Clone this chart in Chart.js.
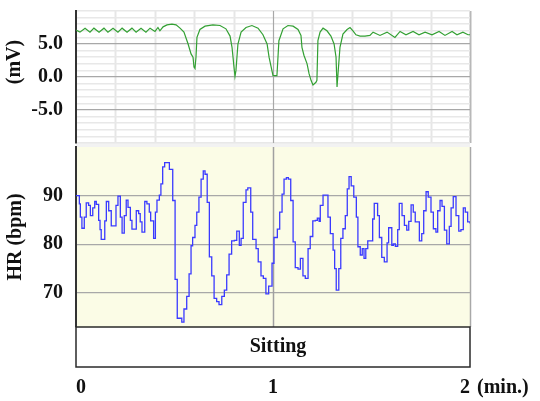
<!DOCTYPE html>
<html>
<head>
<meta charset="utf-8">
<script src="https://cdn.jsdelivr.net/npm/chart.js@4/dist/chart.umd.min.js"></script>
<style>
  html, body { margin: 0; padding: 0; background: #fff; }
</style>
</head>
<body>
<canvas id="myChart" width="540" height="401"></canvas>
<script>
// top trace (mV), time in minutes
const mvTime = [0, 0.020, 0.046, 0.071, 0.091, 0.117, 0.142, 0.162, 0.188, 0.213, 0.234, 0.259, 0.284, 0.305,
  0.330, 0.355, 0.376, 0.401, 0.416, 0.426, 0.442, 0.462, 0.487, 0.508, 0.528, 0.548, 0.569, 0.584, 0.594,
  0.599, 0.604, 0.609, 0.614, 0.629, 0.655, 0.695, 0.731, 0.761, 0.782, 0.792, 0.802, 0.807, 0.812, 0.822,
  0.838, 0.863, 0.893, 0.924, 0.949, 0.970, 0.980, 0.990, 1.000, 1.020, 1.030, 1.051, 1.076, 1.102, 1.127,
  1.142, 1.147, 1.157, 1.173, 1.183, 1.193, 1.203, 1.218, 1.223, 1.228, 1.239, 1.254, 1.274, 1.294, 1.310,
  1.320, 1.325, 1.330, 1.340, 1.355, 1.376, 1.391, 1.406, 1.421, 1.442, 1.467, 1.492, 1.508, 1.543, 1.579,
  1.619, 1.645, 1.675, 1.711, 1.741, 1.772, 1.807, 1.843, 1.873, 1.909, 1.934, 1.964, 1.990, 2.000];
const mvValues = [7.1, 6.8, 7.4, 6.8, 7.4, 6.8, 7.4, 6.8, 7.4, 6.8, 7.4, 6.8, 7.4, 6.8,
  7.4, 6.8, 7.4, 6.9, 7.5, 7.0, 7.6, 7.9, 8.0, 7.9, 7.4, 6.8, 5.0, 3.5, 3.0,
  1.5, 1.3, 3.0, 6.0, 7.2, 7.7, 7.9, 7.8, 7.3, 6.2, 4.5, 1.5, 0.1, 1.0, 5.0,
  6.8, 7.5, 7.8, 7.4, 6.4, 5.0, 3.0, 1.6, 0.2, 0.2, 5.5, 7.3, 7.8, 7.7, 7.2,
  6.3, 4.5, 3.3, 2.0, 0.5, -0.5, -1.2, -0.8, -0.5, 5.5, 6.8, 7.4, 7.0, 6.2, 5.0,
  3.0, -1.5, 0.5, 4.5, 6.5, 7.2, 7.5, 7.0, 6.4, 6.2, 6.2, 6.3, 6.8, 6.3, 6.8,
  6.0, 6.9, 6.4, 6.9, 6.4, 6.8, 6.4, 6.9, 6.3, 6.9, 6.4, 6.8, 6.4, 6.4];

// heart rate (bpm), one value per step
const hrTime = [0, 0.017, 0.022, 0.030, 0.042, 0.052, 0.064, 0.073, 0.085, 0.095, 0.103, 0.115, 0.122, 0.128,
  0.146, 0.154, 0.166, 0.179, 0.203, 0.213, 0.225, 0.234, 0.245, 0.255, 0.264, 0.276, 0.284, 0.306, 0.318,
  0.326, 0.335, 0.349, 0.360, 0.372, 0.379, 0.394, 0.403, 0.411, 0.423, 0.431, 0.440, 0.450, 0.474, 0.491,
  0.503, 0.514, 0.537, 0.548, 0.562, 0.574, 0.584, 0.592, 0.604, 0.613, 0.624, 0.635, 0.646, 0.655, 0.666,
  0.677, 0.689, 0.701, 0.714, 0.726, 0.740, 0.753, 0.765, 0.777, 0.790, 0.804, 0.816, 0.829, 0.838, 0.849,
  0.863, 0.872, 0.887, 0.897, 0.914, 0.925, 0.939, 0.951, 0.964, 0.978, 0.995, 1.005, 1.022, 1.034, 1.046,
  1.056, 1.068, 1.078, 1.090, 1.102, 1.113, 1.127, 1.139, 1.152, 1.164, 1.178, 1.189, 1.202, 1.215, 1.225,
  1.234, 1.240, 1.254, 1.279, 1.291, 1.305, 1.313, 1.321, 1.334, 1.344, 1.355, 1.367, 1.377, 1.386, 1.397,
  1.410, 1.423, 1.431, 1.443, 1.453, 1.462, 1.471, 1.481, 1.506, 1.514, 1.531, 1.540, 1.552, 1.565, 1.579,
  1.587, 1.603, 1.611, 1.621, 1.633, 1.641, 1.655, 1.667, 1.679, 1.689, 1.701, 1.712, 1.722, 1.743, 1.755,
  1.765, 1.777, 1.788, 1.802, 1.814, 1.827, 1.836, 1.848, 1.858, 1.870, 1.882, 1.895, 1.904, 1.915, 1.929,
  1.943, 1.954, 1.966, 1.976, 1.988, 2.000];
const hrValues = [90, 88.3, 85.6, 83.3, 85.6, 88.5, 88.0, 85.9, 87.5, 88.8, 88.2, 84.9, 83.0, 81.0,
  84.8, 88.8, 86.9, 83.8, 88.0, 89.9, 85.6, 82.3, 85.9, 89.1, 87.6, 84.9, 83.1, 86.9, 86.3,
  84.6, 82.5, 88.8, 88.3, 86.6, 84.8, 81.2, 86.6, 89.1, 90.1, 92.4, 95.9, 96.8, 95.4, 89.0,
  72.8, 64.8, 64.0, 66.7, 69.3, 73.9, 79.7, 81.4, 83.9, 86.6, 89.7, 93.4, 95.1, 94.4, 88.6,
  77.4, 73.5, 68.9, 68.2, 67.6, 69.3, 70.6, 73.7, 78.0, 80.7, 80.8, 82.7, 79.8, 81.2, 88.6,
  91.2, 91.6, 86.6, 81.0, 79.1, 76.4, 73.5, 73.0, 69.8, 71.4, 76.1, 81.4, 83.1, 86.6, 90.3,
  93.4, 93.7, 93.4, 89.0, 80.5, 75.2, 74.9, 77.1, 73.5, 73.0, 79.1, 81.6, 84.8, 84.9, 85.4,
  84.7, 88.0, 90.1, 85.6, 82.2, 78.8, 75.0, 70.6, 75.0, 81.2, 83.2, 85.9, 91.4, 93.9, 92.0,
  89.7, 85.6, 79.5, 77.8, 79.1, 77.1, 79.1, 80.7, 85.2, 88.4, 85.9, 81.4, 77.3, 76.4, 80.3,
  83.4, 79.8, 80.1, 79.6, 83.0, 88.4, 85.9, 83.9, 82.9, 84.7, 88.1, 86.6, 84.6, 80.7, 82.2,
  86.9, 90.8, 89.7, 86.6, 83.2, 82.5, 86.9, 89.0, 87.8, 82.9, 80.1, 83.7, 87.5, 89.8, 85.9,
  82.7, 83.0, 87.5, 86.6, 84.6, 84.3];

const xTickValues = [0, 1, 2];
const mvLabelValues = [-5, 0, 5];
const hrTickValues = [70, 80, 90];

const FONT = "'Palatino Linotype', 'Book Antiqua', Palatino, 'Liberation Serif', serif";
const boldFont = { family: FONT, size: 20, weight: 'bold' };

function fixWidth(s) {
  s.width = 76;
  s.paddingTop = 0;
  s.paddingBottom = 0;
}

function vline(ctx, px, top, bottom, color, width) {
  ctx.beginPath();
  ctx.strokeStyle = color;
  ctx.lineWidth = width;
  ctx.moveTo(px, top);
  ctx.lineTo(px, bottom);
  ctx.stroke();
}

const panelPlugin = {
  id: 'panels',
  beforeDraw(chart) {
    const { ctx, chartArea, scales } = chart;
    const x = scales.x, mv = scales.mv, hr = scales.hr;
    ctx.save();
    // yellow background of HR panel
    ctx.fillStyle = '#fbfce6';
    ctx.fillRect(chartArea.left, hr.top, chartArea.right - chartArea.left, hr.bottom - hr.top);
    // light band between panels
    ctx.fillStyle = '#f2f2f2';
    ctx.fillRect(chartArea.left, mv.bottom, chartArea.right - chartArea.left, hr.top - mv.bottom);
    // light vertical grid of top panel every 0.2 min
    for (let i = 1; i <= 10; i++) {
      if (i === 5) continue;
      const px = Math.round(x.getPixelForValue(i * 0.2)) + 0.5;
      vline(ctx, px, mv.top, mv.bottom, i === 10 ? '#b8b8b8' : '#e6e6e6', 2);
    }
    ctx.restore();
  },
  beforeDatasetsDraw(chart) {
    const { ctx, scales } = chart;
    const x = scales.x, mv = scales.mv, hr = scales.hr;
    ctx.save();
    const p1 = Math.round(x.getPixelForValue(1)) + 0.5;
    const p2 = Math.round(x.getPixelForValue(2)) + 0.5;
    vline(ctx, p1, mv.top, mv.bottom, '#a8a8a8', 1.2);
    vline(ctx, p1, hr.top, hr.bottom, '#a0a0a0', 1.5);
    vline(ctx, p2, hr.top, hr.bottom, '#a8a8a8', 1.5);
    ctx.restore();
  },
  afterDraw(chart) {
    const { ctx, chartArea, scales } = chart;
    const x = scales.x, band = scales.band;
    ctx.save();
    // Sitting box
    ctx.strokeStyle = '#2a2a2a';
    ctx.lineWidth = 1.5;
    ctx.strokeRect(chartArea.left, band.top, chartArea.right - chartArea.left, band.bottom - band.top);
    ctx.fillStyle = '#111';
    ctx.font = 'bold 20px ' + FONT;
    ctx.textAlign = 'center';
    ctx.textBaseline = 'middle';
    ctx.fillText('Sitting', (chartArea.left + chartArea.right) / 2 + 5, (band.top + band.bottom) / 2);
    // unit after the last x tick
    ctx.textAlign = 'left';
    ctx.fillText('(min.)', x.getPixelForValue(2) + 7, x.top + 21);
    // top panel axis title
    ctx.translate(15, 62);
    ctx.rotate(-Math.PI / 2);
    ctx.textAlign = 'center';
    ctx.fillText('(mV)', 0, 0);
    ctx.restore();
  }
};

const ctx = document.getElementById('myChart').getContext('2d');

const hrChart = new Chart(ctx, {
  type: 'line',
  data: {
    datasets: [
      {
        label: 'mV',
        data: mvTime.map((t, i) => ({ x: t, y: mvValues[i] })),
        yAxisID: 'mv',
        borderColor: '#33a033',
        borderWidth: 1.2,
        pointRadius: 0,
        tension: 0,
      },
      {
        label: 'HR',
        data: hrTime.map((t, i) => ({ x: t, y: hrValues[i] })),
        yAxisID: 'hr',
        borderColor: '#3a3aff',
        borderWidth: 1.3,
        pointRadius: 0,
        stepped: true,
      },
    ],
  },
  options: {
    responsive: false,
    animation: false,
    layout: { padding: { top: 11, right: 70, bottom: 0, left: 0 } },
    plugins: { legend: { display: false }, tooltip: { enabled: false } },
    scales: {
      // stacked axes are placed bottom-up in the order listed
      band: {
        type: 'linear',
        position: 'left',
        stack: 'panels',
        stackWeight: 40,
        min: 0,
        max: 1,
        ticks: { display: false },
        grid: { display: false },
        border: { display: false },
        afterFit: fixWidth,
      },
      hr: {
        type: 'linear',
        position: 'left',
        stack: 'panels',
        stackWeight: 180,
        min: 63,
        max: 100,
        afterBuildTicks: (s) => { s.ticks = hrTickValues.map((v) => ({ value: v })); },
        ticks: { padding: 13, color: '#111', font: boldFont, autoSkip: false },
        grid: { drawTicks: false, color: '#a8a8a8', lineWidth: 1.2 },
        border: { color: '#333', width: 2 },
        title: { display: true, text: 'HR (bpm)', color: '#111', font: boldFont, padding: { top: 4 } },
        afterFit: fixWidth,
      },
      gap: {
        type: 'linear',
        position: 'left',
        stack: 'panels',
        stackWeight: 4,
        min: 0,
        max: 1,
        ticks: { display: false },
        grid: { display: false },
        border: { display: false },
        afterFit: fixWidth,
      },
      mv: {
        type: 'linear',
        position: 'left',
        stack: 'panels',
        stackWeight: 132,
        min: -10,
        max: 10,
        ticks: {
          stepSize: 1,
          padding: 13,
          color: '#111',
          font: boldFont,
          autoSkip: false,
          callback: (v) => (mvLabelValues.includes(v) ? v.toFixed(1) : ''),
        },
        grid: {
          drawTicks: false,
          color: (c) => (c.tick && mvLabelValues.includes(c.tick.value) ? '#a8a8a8' : '#e8e8e8'),
          lineWidth: (c) => (c.tick && mvLabelValues.includes(c.tick.value) ? 1.2 : 1.5),
        },
        border: { color: '#333', width: 2 },
        afterFit: fixWidth,
      },
      x: {
        type: 'linear',
        position: 'bottom',
        min: 0,
        max: 2,
        afterBuildTicks: (s) => { s.ticks = xTickValues.map((v) => ({ value: v })); },
        ticks: { align: 'inner', padding: 9, color: '#111', font: boldFont, maxRotation: 0 },
        grid: { display: false, drawTicks: false },
        border: { display: false },
        afterFit: (s) => { s.height = 34; s.paddingLeft = 0; s.paddingRight = 0; },
      },
    },
  },
  plugins: [panelPlugin],
});
</script>
</body>
</html>
